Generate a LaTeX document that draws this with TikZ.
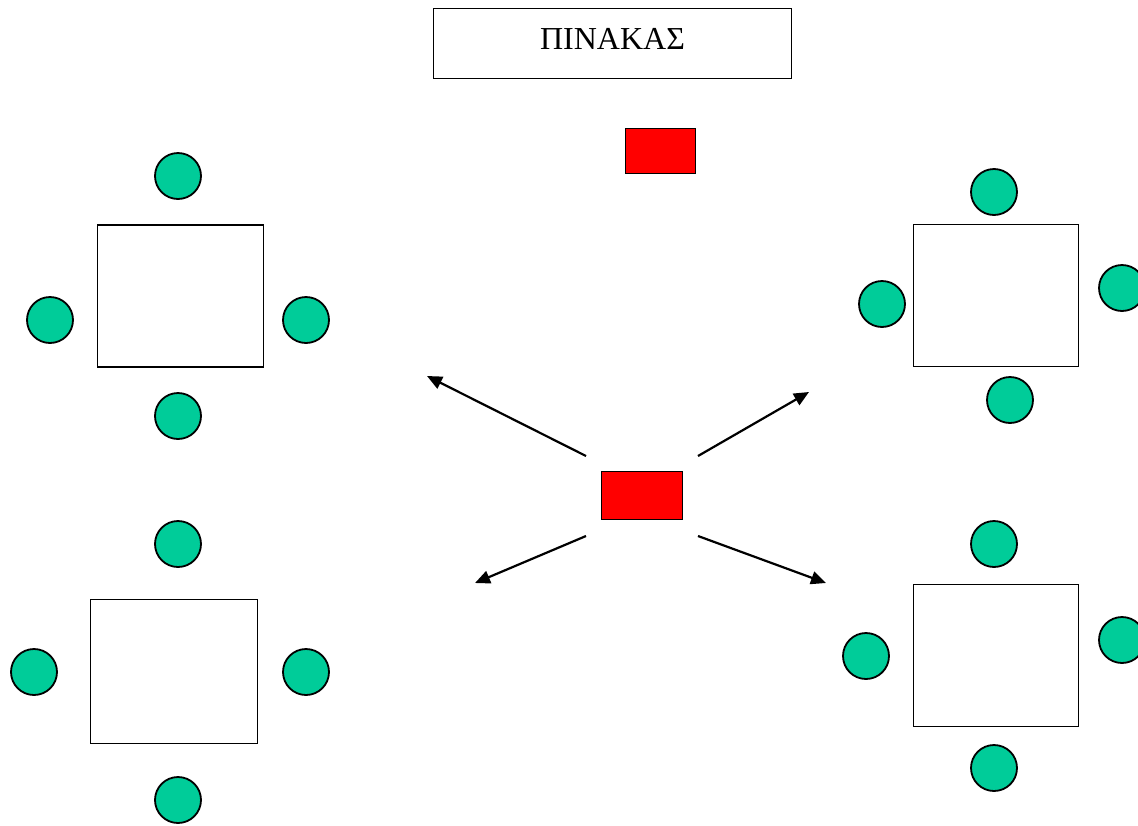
\documentclass[tikz,border=0pt]{standalone}
\usepackage{fontspec}
\setmainfont{Liberation Serif}
\usetikzlibrary{arrows.meta}
\definecolor{seat}{HTML}{00CC99}
\definecolor{desk}{HTML}{FF0000}
\tikzset{
  tablebox/.style={draw=black, line width=1.8pt, fill=white, inner sep=0pt},
  seatdot/.style={circle, draw=black, line width=1.8pt, fill=seat, minimum size=46pt, inner sep=0pt},
  deskbox/.style={draw=black, line width=1.8pt, fill=desk, inner sep=0pt},
  moveline/.style={line width=2.2pt, -{Triangle[length=15pt,width=13pt]}}
}
\begin{document}
\begin{tikzpicture}[x=1pt,y=-1pt]
\useasboundingbox (0,0) rectangle (1138,825);
% board
\node[tablebox, minimum width=358pt, minimum height=70pt, text height=22pt, text depth=10pt, font=\fontsize{32}{36}\selectfont] (board) at (612.5,43.5) {ΠΙΝΑΚΑΣ};
% teacher desk and pupil
\node[deskbox, minimum width=70pt, minimum height=45pt] (tdesk) at (660.5,151) {};
\node[deskbox, minimum width=81pt, minimum height=48pt] (pupil) at (642,495.5) {};
% tables
\node[tablebox, minimum width=166pt, minimum height=142pt] (t1) at (180.5,296) {};
\node[tablebox, minimum width=167pt, minimum height=144pt] (t2) at (174,671.5) {};
\node[tablebox, minimum width=165pt, minimum height=142pt] (t3) at (996,295.5) {};
\node[tablebox, minimum width=165pt, minimum height=142pt] (t4) at (996,655.5) {};
% seats table 1
\node[seatdot] (s1t) at (178,176) {};
\node[seatdot] (s1l) at (50,320) {};
\node[seatdot] (s1r) at (306,320) {};
\node[seatdot] (s1b) at (178,416) {};
% seats table 2
\node[seatdot] (s2t) at (178,544) {};
\node[seatdot] (s2l) at (34,672) {};
\node[seatdot] (s2r) at (306,672) {};
\node[seatdot] (s2b) at (178,800) {};
% seats table 3
\node[seatdot] (s3t) at (994,192) {};
\node[seatdot] (s3l) at (882,304) {};
\node[seatdot] (s3r) at (1122,288) {};
\node[seatdot] (s3b) at (1010,400) {};
% seats table 4
\node[seatdot] (s4t) at (994,544) {};
\node[seatdot] (s4l) at (866,656) {};
\node[seatdot] (s4r) at (1122,640) {};
\node[seatdot] (s4b) at (994,768) {};
% arrows
\coordinate (aulS) at (586,456);
\coordinate (aulE) at (427,376);
\coordinate (aurS) at (698,456);
\coordinate (aurE) at (809,392);
\coordinate (allS) at (586,536);
\coordinate (allE) at (475,583);
\coordinate (alrS) at (698,536);
\coordinate (alrE) at (826,583);
\draw[moveline] (aulS) -- (aulE);
\draw[moveline] (aurS) -- (aurE);
\draw[moveline] (allS) -- (allE);
\draw[moveline] (alrS) -- (alrE);
\end{tikzpicture}
\end{document}
